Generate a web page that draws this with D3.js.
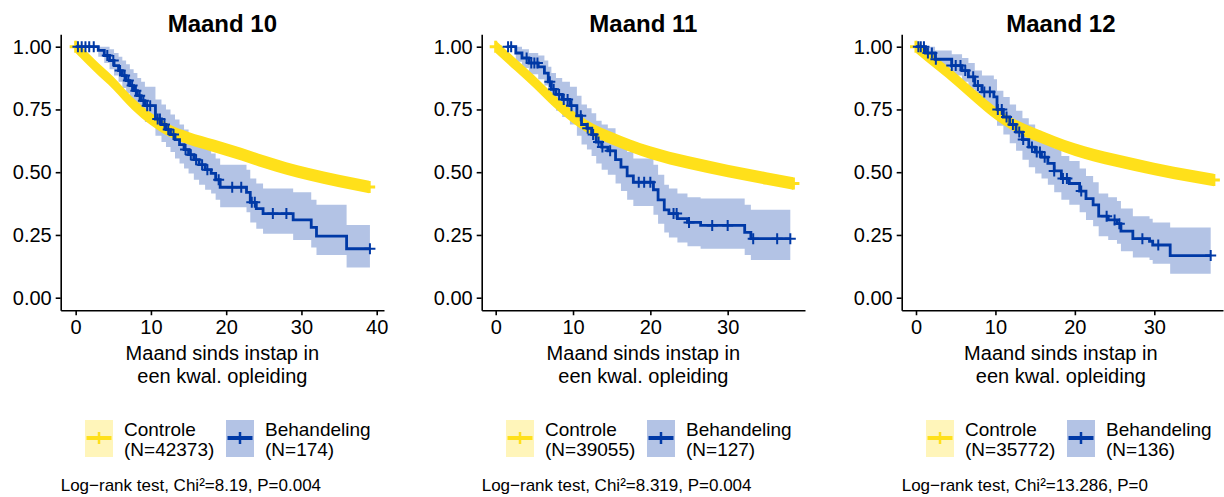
<!DOCTYPE html>
<html>
<head>
<meta charset="utf-8">
<script src="https://cdn.jsdelivr.net/npm/d3@7"></script>
<style>
  body { margin: 0; background: #fff; }
  svg text { font-family: "Liberation Sans", Arial, sans-serif; fill: #000; }
</style>
</head>
<body>
<svg id="chart" width="1224" height="497"></svg>
<script>
// ---- data ----
const titles = ["Maand 10", "Maand 11", "Maand 12"];
const groupNames = ["Controle", "Behandeling"];
const nControl = [42373, 39055, 35772];
const nTreat = [174, 127, 136];
const footnotes = [
  "Log\u2212rank test, Chi\u00b2=8.19, P=0.004",
  "Log\u2212rank test, Chi\u00b2=8.319, P=0.004",
  "Log\u2212rank test, Chi\u00b2=13.286, P=0"
];
const yTickValues = [0, 0.25, 0.5, 0.75, 1];
const xTicks10 = [0, 10, 20, 30, 40];
const xTicks11 = [0, 10, 20, 30];
const xTicks12 = [0, 10, 20, 30];

// control (huge N, looks smooth)
const ctrlT10 = [0, 2.5, 5, 7.5, 10, 12.5, 15, 18.5, 22, 25, 28, 31, 35, 39];
const ctrlS10 = [1.0, 0.925, 0.855, 0.775, 0.712, 0.665, 0.635, 0.604, 0.572, 0.542, 0.515, 0.492, 0.465, 0.441];
const ctrlT11 = [0, 2.5, 5, 7.5, 10, 12.5, 15, 20, 25, 30, 35, 38.5];
const ctrlS11 = [1.0, 0.93, 0.86, 0.785, 0.72, 0.67, 0.635, 0.578, 0.538, 0.505, 0.475, 0.455];
const ctrlT12 = [0, 2.5, 5, 7.5, 10, 12.5, 15, 20, 25, 30, 35, 37.5];
const ctrlS12 = [1.0, 0.935, 0.87, 0.8, 0.735, 0.685, 0.65, 0.59, 0.548, 0.513, 0.483, 0.469];

// treatment: step times, survival, CI
const trtT10 = [0, 3.0, 3.8, 4.5, 5.1, 5.7, 6.2, 6.7, 7.2, 7.7, 8.2, 8.7, 9.2, 10.6, 11.4, 12.0, 12.6, 13.2, 13.8, 14.4, 15.0, 15.7, 16.4, 17.2, 18.0, 18.6, 19.2, 22.7, 23.2, 24.0, 24.9, 28.9, 31.3, 32.0, 36.0, 39.1];
const trtS10 = [1.0, 0.985, 0.965, 0.945, 0.925, 0.905, 0.885, 0.865, 0.845, 0.825, 0.805, 0.785, 0.765, 0.712, 0.69, 0.67, 0.65, 0.63, 0.61, 0.59, 0.57, 0.55, 0.53, 0.51, 0.495, 0.47, 0.44, 0.42, 0.38, 0.355, 0.335, 0.31, 0.28, 0.245, 0.195, 0.195];
const trtU10 = [1.0, 1.0, 1.0, 0.99, 0.975, 0.96, 0.945, 0.93, 0.91, 0.895, 0.875, 0.86, 0.84, 0.79, 0.77, 0.75, 0.73, 0.71, 0.69, 0.67, 0.65, 0.63, 0.61, 0.595, 0.575, 0.555, 0.53, 0.51, 0.475, 0.455, 0.435, 0.42, 0.39, 0.37, 0.29, 0.29];
const trtL10 = [1.0, 0.96, 0.935, 0.91, 0.885, 0.86, 0.835, 0.815, 0.79, 0.77, 0.745, 0.725, 0.7, 0.645, 0.62, 0.6, 0.58, 0.555, 0.535, 0.515, 0.495, 0.47, 0.45, 0.43, 0.415, 0.39, 0.36, 0.34, 0.3, 0.275, 0.255, 0.23, 0.2, 0.17, 0.12, 0.12];
const cens10 = [0.3, 0.8, 1.3, 1.8, 2.4, 4.2, 5.0, 5.9, 6.5, 7.0, 7.5, 8.0, 8.5, 9.0, 9.5, 9.9, 10.9, 11.2, 11.8, 12.3, 13.0, 14.6, 15.3, 16.0, 16.8, 17.5, 19.0, 20.8, 22.0, 23.4, 23.8, 26.2, 28.0, 39.1];

const trtT11 = [1.6, 2.6, 3.4, 4.3, 5.5, 6.3, 6.8, 7.2, 7.8, 8.6, 9.6, 10.5, 11.1, 11.8, 12.4, 13.0, 13.7, 14.5, 15.5, 16.2, 17.0, 17.8, 20.4, 21.0, 21.8, 22.4, 23.5, 24.8, 26.5, 32.2, 33.0, 38.1];
const trtS11 = [1.0, 0.975, 0.955, 0.935, 0.92, 0.895, 0.86, 0.83, 0.81, 0.79, 0.765, 0.725, 0.69, 0.675, 0.65, 0.62, 0.6, 0.585, 0.55, 0.52, 0.485, 0.46, 0.43, 0.39, 0.35, 0.335, 0.315, 0.3, 0.288, 0.26, 0.235, 0.235];
const trtU11 = [1.0, 1.0, 0.99, 0.975, 0.965, 0.945, 0.92, 0.895, 0.875, 0.86, 0.84, 0.805, 0.77, 0.755, 0.735, 0.705, 0.69, 0.675, 0.64, 0.61, 0.58, 0.555, 0.53, 0.49, 0.45, 0.435, 0.415, 0.4, 0.395, 0.37, 0.35, 0.35];
const trtL11 = [1.0, 0.94, 0.915, 0.89, 0.87, 0.845, 0.8, 0.77, 0.745, 0.72, 0.69, 0.645, 0.61, 0.59, 0.565, 0.535, 0.51, 0.49, 0.455, 0.425, 0.39, 0.365, 0.33, 0.295, 0.26, 0.24, 0.22, 0.205, 0.195, 0.17, 0.15, 0.15];
const cens11 = [1.6, 2.0, 4.0, 4.6, 5.0, 5.4, 7.0, 7.5, 8.2, 8.8, 9.3, 9.8, 11.0, 11.9, 12.6, 13.3, 13.8, 14.8, 18.5, 19.2, 20.0, 23.0, 23.4, 25.0, 28.0, 30.0, 33.3, 36.4, 38.1];

const trtT12 = [0, 1.2, 2.4, 4.5, 5.8, 6.6, 7.4, 8.3, 9.8, 10.2, 11.0, 11.8, 12.6, 13.4, 14.2, 15.0, 15.8, 16.6, 17.4, 18.3, 19.3, 20.6, 21.4, 22.3, 23.0, 24.2, 25.3, 25.8, 27.3, 29.4, 29.8, 32.0, 37.1];
const trtS12 = [1.0, 0.975, 0.95, 0.925, 0.905, 0.88, 0.845, 0.82, 0.8, 0.75, 0.72, 0.69, 0.66, 0.63, 0.6, 0.58, 0.56, 0.535, 0.505, 0.475, 0.455, 0.425, 0.395, 0.37, 0.325, 0.31, 0.295, 0.265, 0.235, 0.225, 0.21, 0.168, 0.168];
const trtU12 = [1.0, 1.0, 0.985, 0.97, 0.955, 0.935, 0.905, 0.885, 0.87, 0.825, 0.8, 0.77, 0.745, 0.715, 0.69, 0.665, 0.645, 0.62, 0.595, 0.565, 0.545, 0.515, 0.485, 0.46, 0.415, 0.4, 0.385, 0.355, 0.325, 0.315, 0.3, 0.28, 0.28];
const trtL12 = [1.0, 0.945, 0.915, 0.885, 0.86, 0.83, 0.795, 0.765, 0.74, 0.685, 0.65, 0.615, 0.585, 0.55, 0.52, 0.495, 0.475, 0.45, 0.42, 0.39, 0.37, 0.34, 0.31, 0.285, 0.245, 0.23, 0.215, 0.185, 0.16, 0.15, 0.135, 0.095, 0.095];
const cens12 = [0.3, 0.6, 1.0, 1.5, 2.0, 2.5, 4.5, 5.0, 5.6, 6.2, 7.2, 7.8, 8.6, 9.3, 10.3, 10.8, 11.4, 12.2, 13.0, 13.5, 14.6, 15.2, 15.6, 16.2, 17.4, 18.5, 19.0, 20.8, 24.0, 25.0, 25.6, 28.5, 30.5, 37.1];

// ---- layout ----
const yellow = "#FFE01A", blue = "#0039A6";
const ciBlue = "#B3C3E5", keyYellow = "#FFF5BA";
const panels = [
  {left: 60.7, right: 384, xDom: [-1.99, 40.97], ticks: xTicks10,
   cT: ctrlT10, cS: ctrlS10, t: trtT10, s: trtS10, up: trtU10, lo: trtL10, cens: cens10},
  {left: 481.7, right: 805, xDom: [-1.81, 40.0], ticks: xTicks11,
   cT: ctrlT11, cS: ctrlS11, t: trtT11, s: trtS11, up: trtU11, lo: trtL11, cens: cens11},
  {left: 901.7, right: 1223, xDom: [-1.8, 38.65], ticks: xTicks12,
   cT: ctrlT12, cS: ctrlS12, t: trtT12, s: trtS12, up: trtU12, lo: trtL12, cens: cens12}
];

const svg = d3.select("#chart");
const y = d3.scaleLinear().domain([-0.05, 1.05]).range([310.25, 34.15]);
const plus = s => `M${-s},0H${s}M0,${-s}V${s}`;

panels.forEach((p, k) => {
  const x = d3.scaleLinear().domain(p.xDom).range([p.left, p.right]);
  const g = svg.append("g");
  const mid = (p.left + Math.min(p.right, 1220)) / 2;

  // treatment CI
  const rows = p.t.map((t, i) => ({t: t, s: p.s[i], up: p.up[i], lo: p.lo[i]}));
  g.append("path").datum(rows)
    .attr("fill", ciBlue)
    .attr("d", d3.area().curve(d3.curveStepAfter)
      .x(d => x(d.t)).y0(d => y(d.lo)).y1(d => y(d.up)));

  // control: dense censor marks make a thick band
  const ctrl = p.cT.map((t, i) => ({t: t, s: p.cS[i]}));
  g.append("path").datum(ctrl)
    .attr("fill", yellow)
    .attr("d", d3.area().curve(d3.curveMonotoneX)
      .x(d => x(d.t)).y0(d => y(d.s) + 6.3).y1(d => y(d.s) - 6.3));
  [ctrl[0], ctrl[ctrl.length - 1]].forEach(d => {
    g.append("path")
      .attr("transform", `translate(${x(d.t)},${y(d.s)})`)
      .attr("d", plus(6)).attr("stroke", yellow).attr("stroke-width", 3);
  });

  // treatment KM step line
  g.append("path").datum(rows)
    .attr("fill", "none").attr("stroke", blue).attr("stroke-width", 2.8)
    .attr("d", d3.line().curve(d3.curveStepAfter).x(d => x(d.t)).y(d => y(d.s)));

  // censor marks
  const survAt = c => {
    let v = p.s[0];
    p.t.forEach((t, i) => { if (t <= c) v = p.s[i]; });
    return v;
  };
  g.selectAll(".cens").data(p.cens).enter().append("path")
    .attr("transform", c => `translate(${x(c)},${y(survAt(c))})`)
    .attr("d", plus(5.5)).attr("stroke", blue).attr("stroke-width", 2).attr("fill", "none");

  // axes
  const ya = g.append("g").attr("transform", `translate(${p.left},0)`)
    .call(d3.axisLeft(y).tickValues(yTickValues).tickFormat(d3.format(".2f"))
      .tickSize(5).tickSizeOuter(0).tickPadding(4));
  const xa = g.append("g").attr("transform", `translate(0,${y(-0.05)})`)
    .call(d3.axisBottom(x).tickValues(p.ticks).tickSize(5).tickSizeOuter(0).tickPadding(5));
  [ya, xa].forEach(a => {
    a.attr("font-family", null).attr("font-size", null);
    a.selectAll("path, line").attr("stroke", "#000").attr("stroke-width", 1.6);
    a.selectAll("text").style("font-size", "20px");
  });

  // title + axis title
  g.append("text").attr("x", mid).attr("y", 32).attr("text-anchor", "middle")
    .style("font-size", "24px").style("font-weight", "bold").text(titles[k]);
  g.append("text").attr("x", mid).attr("y", 360).attr("text-anchor", "middle")
    .style("font-size", "20px").text("Maand sinds instap in");
  g.append("text").attr("x", mid).attr("y", 383).attr("text-anchor", "middle")
    .style("font-size", "20px").text("een kwal. opleiding");

  // legend
  const keys = [
    {dx: 24.3, fill: keyYellow, col: yellow, name: groupNames[0], n: nControl[k]},
    {dx: 165.3, fill: ciBlue, col: blue, name: groupNames[1], n: nTreat[k]}
  ];
  keys.forEach(kk => {
    const kx = p.left + kk.dx;
    g.append("rect").attr("x", kx).attr("y", 420).attr("width", 28).attr("height", 37).attr("fill", kk.fill);
    g.append("line").attr("x1", kx + 1.5).attr("x2", kx + 26.5).attr("y1", 438).attr("y2", 438)
      .attr("stroke", kk.col).attr("stroke-width", 4);
    g.append("path").attr("transform", `translate(${kx + 14},438)`).attr("d", plus(6))
      .attr("stroke", kk.col).attr("stroke-width", 2.5);
    g.append("text").attr("x", kx + 39).attr("y", 435.5).style("font-size", "19px").text(kk.name);
    g.append("text").attr("x", kx + 39).attr("y", 455.5).style("font-size", "19px").text("(N=" + kk.n + ")");
  });

  g.append("text").attr("x", p.left).attr("y", 491).style("font-size", "17px").text(footnotes[k]);
});
</script>
</body>
</html>
